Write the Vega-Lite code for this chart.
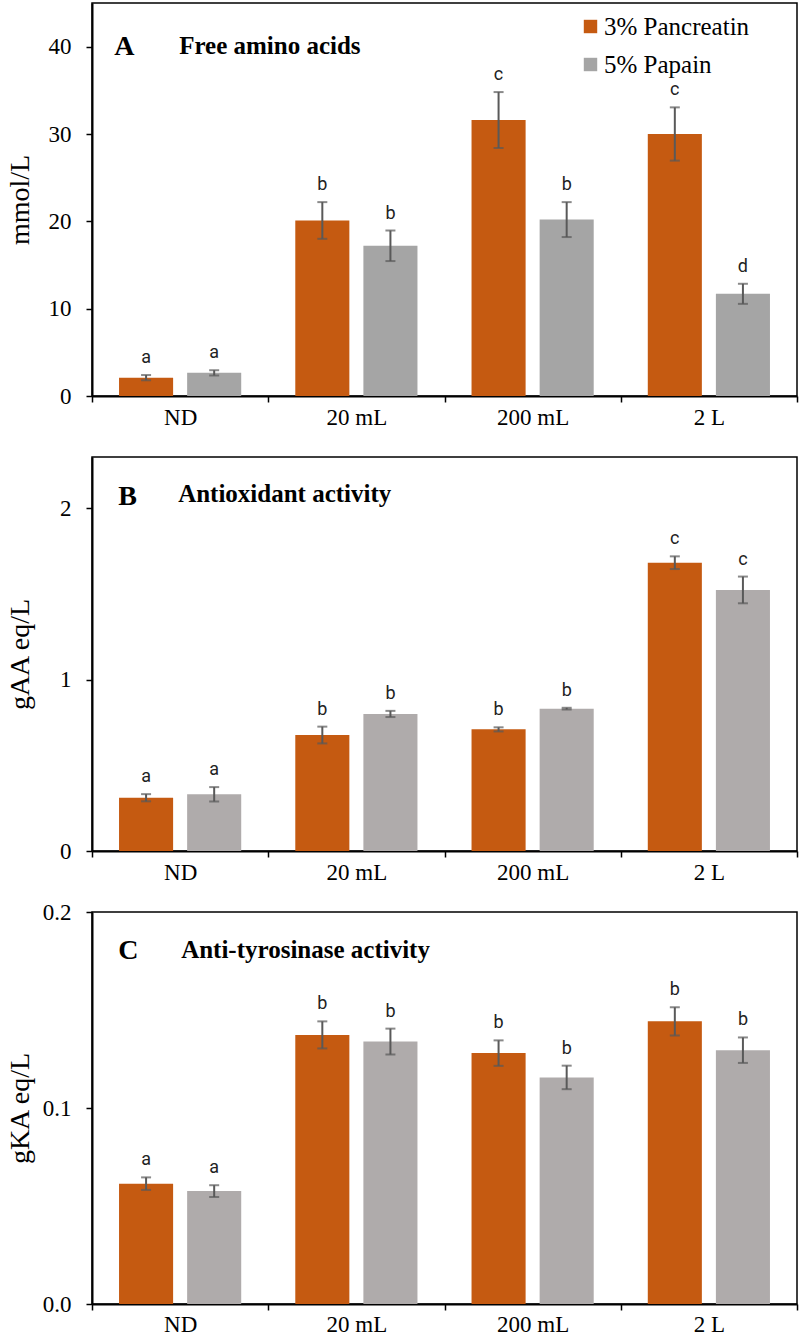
{
  "$schema": "https://vega.github.io/schema/vega-lite/v6.json",
  "padding": {"left": 5, "top": 2, "right": 4, "bottom": 0},
  "bounds": "flush",
  "spacing": 61,
  "config": {
    "view": {"stroke": "black", "strokeWidth": 1.5},
    "font": "Liberation Serif",
    "axis": {
      "labelFont": "Liberation Serif", "labelFontSize": 23, "labelColor": "black",
      "titleFont": "Liberation Serif", "titleFontSize": 28, "titleFontWeight": "normal", "titleColor": "black",
      "domainColor": "black", "domainWidth": 2, "tickColor": "black", "tickWidth": 1.5, "tickSize": 6, "grid": false
    },
    "axisY": {"labelPadding": 15, "titleX": -58},
    "axisX": {"labelPadding": 4, "labelAngle": 0, "tickBand": "extent", "title": null},
    "legend": {"labelFont": "Liberation Serif", "labelFontSize": 25, "labelColor": "black"}
  },
  "resolve": {"scale": {"color": "independent", "xOffset": "independent"}, "legend": {"color": "independent"}},
  "datasets": {
    "A": [
      {"dose": "ND", "enzyme": "3% Pancreatin", "value": 2.1, "lo": 1.8, "hi": 2.4, "letter": "a"},
      {"dose": "ND", "enzyme": "5% Papain", "value": 2.65, "lo": 2.35, "hi": 2.95, "letter": "a"},
      {"dose": "20 mL", "enzyme": "3% Pancreatin", "value": 20.1, "lo": 18.0, "hi": 22.2, "letter": "b"},
      {"dose": "20 mL", "enzyme": "5% Papain", "value": 17.2, "lo": 15.45, "hi": 18.95, "letter": "b"},
      {"dose": "200 mL", "enzyme": "3% Pancreatin", "value": 31.6, "lo": 28.4, "hi": 34.8, "letter": "c"},
      {"dose": "200 mL", "enzyme": "5% Papain", "value": 20.2, "lo": 18.2, "hi": 22.2, "letter": "b"},
      {"dose": "2 L", "enzyme": "3% Pancreatin", "value": 30.0, "lo": 26.95, "hi": 33.05, "letter": "c"},
      {"dose": "2 L", "enzyme": "5% Papain", "value": 11.7, "lo": 10.55, "hi": 12.85, "letter": "d"}
    ],
    "B": [
      {"dose": "ND", "enzyme": "3% Pancreatin", "value": 0.311, "lo": 0.29, "hi": 0.332, "letter": "a"},
      {"dose": "ND", "enzyme": "5% Papain", "value": 0.331, "lo": 0.289, "hi": 0.373, "letter": "a"},
      {"dose": "20 mL", "enzyme": "3% Pancreatin", "value": 0.677, "lo": 0.628, "hi": 0.726, "letter": "b"},
      {"dose": "20 mL", "enzyme": "5% Papain", "value": 0.8, "lo": 0.782, "hi": 0.818, "letter": "b"},
      {"dose": "200 mL", "enzyme": "3% Pancreatin", "value": 0.71, "lo": 0.698, "hi": 0.722, "letter": "b"},
      {"dose": "200 mL", "enzyme": "5% Papain", "value": 0.831, "lo": 0.826, "hi": 0.836, "letter": "b"},
      {"dose": "2 L", "enzyme": "3% Pancreatin", "value": 1.683, "lo": 1.646, "hi": 1.72, "letter": "c"},
      {"dose": "2 L", "enzyme": "5% Papain", "value": 1.524, "lo": 1.446, "hi": 1.602, "letter": "c"}
    ],
    "C": [
      {"dose": "ND", "enzyme": "3% Pancreatin", "value": 0.0614, "lo": 0.0582, "hi": 0.0646, "letter": "a"},
      {"dose": "ND", "enzyme": "5% Papain", "value": 0.0576, "lo": 0.0546, "hi": 0.0606, "letter": "a"},
      {"dose": "20 mL", "enzyme": "3% Pancreatin", "value": 0.1373, "lo": 0.1304, "hi": 0.1442, "letter": "b"},
      {"dose": "20 mL", "enzyme": "5% Papain", "value": 0.1339, "lo": 0.1273, "hi": 0.1405, "letter": "b"},
      {"dose": "200 mL", "enzyme": "3% Pancreatin", "value": 0.128, "lo": 0.1215, "hi": 0.1345, "letter": "b"},
      {"dose": "200 mL", "enzyme": "5% Papain", "value": 0.1156, "lo": 0.1096, "hi": 0.1216, "letter": "b"},
      {"dose": "2 L", "enzyme": "3% Pancreatin", "value": 0.1442, "lo": 0.137, "hi": 0.1514, "letter": "b"},
      {"dose": "2 L", "enzyme": "5% Papain", "value": 0.1295, "lo": 0.123, "hi": 0.136, "letter": "b"}
    ]
  },
  "vconcat": [
    {
      "width": 705, "height": 393,
      "data": {"name": "A"},
      "encoding": {
        "x": {"field": "dose", "type": "nominal", "sort": ["ND", "20 mL", "200 mL", "2 L"], "scale": {"paddingInner": 0, "paddingOuter": 0}},
        "xOffset": {"field": "enzyme", "type": "nominal", "sort": ["3% Pancreatin", "5% Papain"], "scale": {"paddingInner": 0.206, "paddingOuter": 0.397}}
      },
      "layer": [
        {"mark": {"type": "bar"},
         "encoding": {
           "y": {"field": "value", "type": "quantitative", "scale": {"domain": [0, 45], "nice": false}, "axis": {"values": [0, 10, 20, 30, 40], "title": "mmol/L"}},
           "color": {"field": "enzyme", "type": "nominal", "sort": ["3% Pancreatin", "5% Papain"], "scale": {"range": ["#C55A11", "#A5A5A5"]},
             "legend": {"orient": "none", "legendX": 486, "legendY": 11, "title": null, "labelFont": "Liberation Serif", "labelFontSize": 25, "labelColor": "black", "symbolType": "square", "symbolSize": 180, "symbolStrokeWidth": 0, "rowPadding": 12, "labelOffset": 1}}
         }},
        {"mark": {"type": "rule", "color": "#595959", "strokeWidth": 2},
         "encoding": {"y": {"field": "lo", "type": "quantitative"}, "y2": {"field": "hi"}}},
        {"mark": {"type": "tick", "color": "#595959", "thickness": 2, "size": 10, "orient": "horizontal"},
         "encoding": {"y": {"field": "lo", "type": "quantitative"}}},
        {"mark": {"type": "tick", "color": "#595959", "thickness": 2, "size": 10, "orient": "horizontal"},
         "encoding": {"y": {"field": "hi", "type": "quantitative"}}},
        {"mark": {"type": "text", "font": "Roboto", "fontSize": 18, "color": "#222222", "baseline": "alphabetic", "dy": -12},
         "encoding": {"y": {"field": "hi", "type": "quantitative"}, "text": {"field": "letter"}}},
        {"data": {"values": [{"t": "A"}]},
         "mark": {"type": "text", "font": "Liberation Serif", "fontWeight": "bold", "fontSize": 28, "align": "left", "baseline": "alphabetic", "dx": -66, "color": "black"},
         "encoding": {"x": {"datum": "ND"}, "xOffset": null, "y": {"datum": 39}, "text": {"field": "t"}}},
        {"data": {"values": [{"t": "Free amino acids"}]},
         "mark": {"type": "text", "font": "Liberation Serif", "fontWeight": "bold", "fontSize": 25, "align": "left", "baseline": "alphabetic", "dx": -1, "color": "black"},
         "encoding": {"x": {"datum": "ND"}, "xOffset": null, "y": {"datum": 39.2}, "text": {"field": "t"}}}
      ]
    },
    {
      "width": 705, "height": 394,
      "data": {"name": "B"},
      "encoding": {
        "x": {"field": "dose", "type": "nominal", "sort": ["ND", "20 mL", "200 mL", "2 L"], "scale": {"paddingInner": 0, "paddingOuter": 0}},
        "xOffset": {"field": "enzyme", "type": "nominal", "sort": ["3% Pancreatin", "5% Papain"], "scale": {"paddingInner": 0.206, "paddingOuter": 0.397}}
      },
      "layer": [
        {"mark": {"type": "bar"},
         "encoding": {
           "y": {"field": "value", "type": "quantitative", "scale": {"domain": [0, 2.3], "nice": false}, "axis": {"values": [0, 1, 2], "format": "d", "title": "gAA eq/L"}},
           "color": {"field": "enzyme", "type": "nominal", "sort": ["3% Pancreatin", "5% Papain"], "scale": {"range": ["#C55A11", "#AFABAB"]}, "legend": null}
         }},
        {"mark": {"type": "rule", "color": "#595959", "strokeWidth": 2},
         "encoding": {"y": {"field": "lo", "type": "quantitative"}, "y2": {"field": "hi"}}},
        {"mark": {"type": "tick", "color": "#595959", "thickness": 2, "size": 10, "orient": "horizontal"},
         "encoding": {"y": {"field": "lo", "type": "quantitative"}}},
        {"mark": {"type": "tick", "color": "#595959", "thickness": 2, "size": 10, "orient": "horizontal"},
         "encoding": {"y": {"field": "hi", "type": "quantitative"}}},
        {"mark": {"type": "text", "font": "Roboto", "fontSize": 18, "color": "#222222", "baseline": "alphabetic", "dy": -12},
         "encoding": {"y": {"field": "hi", "type": "quantitative"}, "text": {"field": "letter"}}},
        {"data": {"values": [{"t": "B"}]},
         "mark": {"type": "text", "font": "Liberation Serif", "fontWeight": "bold", "fontSize": 28, "align": "left", "baseline": "alphabetic", "dx": -62, "color": "black"},
         "encoding": {"x": {"datum": "ND"}, "xOffset": null, "y": {"datum": 2.02}, "text": {"field": "t"}}},
        {"data": {"values": [{"t": "Antioxidant activity"}]},
         "mark": {"type": "text", "font": "Liberation Serif", "fontWeight": "bold", "fontSize": 25, "align": "left", "baseline": "alphabetic", "dx": -2, "color": "black"},
         "encoding": {"x": {"datum": "ND"}, "xOffset": null, "y": {"datum": 2.04}, "text": {"field": "t"}}}
      ]
    },
    {
      "width": 705, "height": 392,
      "data": {"name": "C"},
      "encoding": {
        "x": {"field": "dose", "type": "nominal", "sort": ["ND", "20 mL", "200 mL", "2 L"], "scale": {"paddingInner": 0, "paddingOuter": 0}, "axis": {"labelPadding": 3}},
        "xOffset": {"field": "enzyme", "type": "nominal", "sort": ["3% Pancreatin", "5% Papain"], "scale": {"paddingInner": 0.206, "paddingOuter": 0.397}}
      },
      "layer": [
        {"mark": {"type": "bar"},
         "encoding": {
           "y": {"field": "value", "type": "quantitative", "scale": {"domain": [0, 0.2], "nice": false}, "axis": {"values": [0, 0.1, 0.2], "format": ".1f", "title": "gKA eq/L"}},
           "color": {"field": "enzyme", "type": "nominal", "sort": ["3% Pancreatin", "5% Papain"], "scale": {"range": ["#C55A11", "#AFABAB"]}, "legend": null}
         }},
        {"mark": {"type": "rule", "color": "#595959", "strokeWidth": 2},
         "encoding": {"y": {"field": "lo", "type": "quantitative"}, "y2": {"field": "hi"}}},
        {"mark": {"type": "tick", "color": "#595959", "thickness": 2, "size": 10, "orient": "horizontal"},
         "encoding": {"y": {"field": "lo", "type": "quantitative"}}},
        {"mark": {"type": "tick", "color": "#595959", "thickness": 2, "size": 10, "orient": "horizontal"},
         "encoding": {"y": {"field": "hi", "type": "quantitative"}}},
        {"mark": {"type": "text", "font": "Roboto", "fontSize": 18, "color": "#222222", "baseline": "alphabetic", "dy": -12},
         "encoding": {"y": {"field": "hi", "type": "quantitative"}, "text": {"field": "letter"}}},
        {"data": {"values": [{"t": "C"}]},
         "mark": {"type": "text", "font": "Liberation Serif", "fontWeight": "bold", "fontSize": 28, "align": "left", "baseline": "alphabetic", "dx": -62, "color": "black"},
         "encoding": {"x": {"datum": "ND"}, "xOffset": null, "y": {"datum": 0.176}, "text": {"field": "t"}}},
        {"data": {"values": [{"t": "Anti-tyrosinase activity"}]},
         "mark": {"type": "text", "font": "Liberation Serif", "fontWeight": "bold", "fontSize": 25, "align": "left", "baseline": "alphabetic", "dx": 1, "color": "black"},
         "encoding": {"x": {"datum": "ND"}, "xOffset": null, "y": {"datum": 0.1765}, "text": {"field": "t"}}}
      ]
    }
  ]
}
